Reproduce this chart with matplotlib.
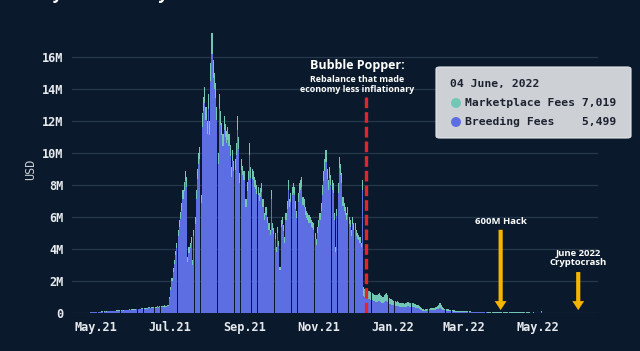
import pandas as pd
import matplotlib
matplotlib.use('Agg')
from matplotlib import pyplot as plt
from matplotlib.patches import FancyBboxPatch, Circle

BG = '#0a1a2c'
BLUE = '#5d6ee2'
TEAL = '#72c6b4'
GRID = '#26384b'
TXT = '#e6e9ee'
MONO = 'DejaVu Sans Mono'
SANS = 'Open Sans'

START = '2021-04-27'

# daily fees in millions of USD, one value per day from START
breeding = [
    0.04, 0.05, 0.05, 0.06,  # apr 21
    0.06, 0.07, 0.08, 0.07, 0.08, 0.08, 0.09, 0.08, 0.10, 0.09, 0.10, 0.11, 0.12, 0.11, 0.13, 0.12,
    0.13, 0.14, 0.14, 0.14, 0.15, 0.14, 0.16, 0.15, 0.16, 0.17, 0.18, 0.17, 0.19, 0.18, 0.19,  # may
    0.20, 0.21, 0.20, 0.22, 0.23, 0.22, 0.24, 0.25, 0.25, 0.26, 0.27, 0.26, 0.28, 0.30, 0.29,
    0.31, 0.32, 0.32, 0.33, 0.34, 0.35, 0.34, 0.36, 0.37, 0.37, 0.38, 0.40, 0.39, 0.41, 0.43,  # jun
    0.90, 1.45, 2.02, 2.58, 3.05, 3.60, 4.05, 4.80, 5.38, 5.85, 6.40, 7.15, 7.60, 8.25, 7.90, 3.20,
    3.75, 4.05, 4.35, 3.00, 4.80, 5.55, 7.15, 8.35, 9.30, 9.65, 6.85, 11.65, 12.60, 13.15, 12.05,  # jul
    11.20, 12.75, 11.15, 14.50, 16.20, 14.70, 14.00, 13.45, 12.05, 9.30, 12.75, 11.75, 11.10, 10.45,
    11.45, 11.00, 10.65, 10.80, 10.45, 9.80, 8.50, 9.50, 8.85, 8.95, 9.85, 11.45, 10.25, 8.15, 8.95,
    8.60, 8.30,  # aug
    8.30, 6.60, 7.65, 8.30, 9.85, 8.45, 8.35, 8.30, 7.90, 7.75, 7.45, 7.35, 7.00, 7.25, 7.55, 6.60,
    5.80, 6.15, 6.15, 5.60, 5.20, 4.85, 7.15, 5.20, 4.95, 4.65, 3.80, 5.00, 4.20, 2.70,  # sep
    5.40, 5.55, 5.10, 4.40, 5.80, 6.50, 7.70, 6.60, 6.95, 7.35, 7.50, 7.35, 6.50, 5.95, 6.95, 7.50,
    7.70, 7.90, 6.75, 6.60, 6.15, 5.95, 5.80, 5.65, 5.60, 5.40, 5.30, 5.20, 4.65, 4.25, 5.00,  # oct
    5.40, 5.80, 6.40, 7.40, 8.25, 8.90, 9.45, 8.35, 7.70, 8.45, 8.00, 7.70, 7.50, 5.80, 3.80, 6.05,
    7.50, 9.05, 8.65, 8.10, 6.70, 6.40, 6.10, 5.80, 6.10, 5.55, 5.35, 4.80, 5.55, 5.20,  # nov
    5.20, 4.80, 4.65, 4.55, 4.40, 4.10, 7.70, 1.05, 1.00, 0.90, 0.95, 0.90, 0.87, 0.84, 0.80, 0.76,
    0.73, 0.68, 0.68, 0.75, 0.78, 0.71, 0.65, 0.62, 0.68, 0.75, 0.78, 0.68, 0.58, 0.55, 0.52,  # dec
    0.48, 0.47, 0.45, 0.42, 0.43, 0.41, 0.37, 0.36, 0.37, 0.36, 0.35, 0.37, 0.41, 0.42, 0.39, 0.36,
    0.37, 0.36, 0.35, 0.33, 0.30, 0.29, 0.25, 0.21, 0.18, 0.15, 0.12, 0.13, 0.15, 0.16, 0.17,  # jan 22
    0.17, 0.17, 0.18, 0.17, 0.19, 0.22, 0.25, 0.28, 0.33, 0.28, 0.21, 0.17, 0.16, 0.14, 0.14, 0.12,
    0.11, 0.10, 0.10, 0.09, 0.09, 0.08, 0.08, 0.08, 0.08, 0.07, 0.07, 0.07,  # feb
    0.06, 0.06, 0.06, 0.05, 0.05, 0.05, 0.045, 0.046, 0.044, 0.04, 0.041, 0.04, 0.039, 0.036, 0.035,
    0.034, 0.036, 0.035, 0.033, 0.031, 0.03, 0.029, 0.031, 0.03, 0.026, 0.025, 0.024, 0.026, 0.025,
    0.024, 0.025,  # mar
    0.024, 0.023, 0.024, 0.022, 0.021, 0.022, 0.021, 0.020, 0.019, 0.020, 0.019, 0.018, 0.019, 0.018,
    0.017, 0.018, 0.017, 0.016, 0.017, 0.016, 0.016, 0.015, 0.016, 0.015, 0.014, 0.015, 0.015, 0.014,
    0.013, 0.014,  # apr
    0.014, 0.014, 0.013, 0.070, 0.013, 0.012, 0.011, 0.010, 0.009, 0.009, 0.009, 0.008, 0.008, 0.008,
    0.008, 0.007, 0.007, 0.007, 0.007, 0.007, 0.006, 0.006, 0.006, 0.006, 0.006, 0.006, 0.006, 0.006,
    0.006, 0.005, 0.005,  # may
    0.0055, 0.0056, 0.0054, 0.005499,  # jun
]

marketplace = [
    0.01, 0.01, 0.01, 0.01,  # apr 21
    0.01, 0.01, 0.01, 0.01, 0.01, 0.02, 0.02, 0.02, 0.02, 0.02, 0.02, 0.02, 0.02, 0.02, 0.02, 0.02,
    0.02, 0.02, 0.03, 0.02, 0.03, 0.03, 0.03, 0.03, 0.03, 0.03, 0.03, 0.03, 0.03, 0.03, 0.03,  # may
    0.03, 0.04, 0.04, 0.04, 0.04, 0.04, 0.04, 0.05, 0.04, 0.05, 0.05, 0.05, 0.05, 0.05, 0.05,
    0.05, 0.06, 0.05, 0.06, 0.06, 0.06, 0.06, 0.06, 0.07, 0.06, 0.07, 0.07, 0.07, 0.07, 0.07,  # jun
    0.10, 0.15, 0.18, 0.22, 0.25, 0.30, 0.35, 0.40, 0.42, 0.45, 0.50, 0.55, 0.60, 0.65, 0.60, 0.30,
    0.35, 0.35, 0.40, 0.30, 0.40, 0.45, 0.55, 0.65, 0.70, 0.75, 0.55, 0.85, 0.90, 0.95, 0.85,  # jul
    0.80, 0.95, 0.85, 1.10, 1.30, 1.10, 1.00, 0.95, 0.85, 0.70, 0.95, 0.85, 0.80, 0.75, 0.85, 0.80,
    0.75, 0.80, 0.75, 0.70, 0.60, 0.70, 0.65, 0.65, 0.75, 0.85, 0.75, 0.60, 0.65, 0.60, 0.60,  # aug
    0.60, 0.50, 0.55, 0.60, 0.75, 0.65, 0.65, 0.60, 0.60, 0.55, 0.55, 0.55, 0.50, 0.55, 0.55, 0.50,
    0.45, 0.45, 0.45, 0.40, 0.40, 0.35, 0.55, 0.40, 0.35, 0.35, 0.30, 0.40, 0.30, 0.20,  # sep
    0.40, 0.45, 0.40, 0.35, 0.45, 0.50, 0.60, 0.50, 0.55, 0.55, 0.60, 0.55, 0.50, 0.45, 0.55, 0.60,
    0.60, 0.60, 0.50, 0.50, 0.45, 0.45, 0.45, 0.45, 0.40, 0.40, 0.40, 0.40, 0.35, 0.35, 0.40,  # oct
    0.40, 0.45, 0.50, 0.60, 0.65, 0.70, 0.75, 0.65, 0.60, 0.65, 0.60, 0.60, 0.60, 0.45, 0.30, 0.45,
    0.60, 0.70, 0.65, 0.65, 0.55, 0.50, 0.50, 0.45, 0.50, 0.45, 0.45, 0.40, 0.45, 0.40,  # nov
    0.40, 0.40, 0.35, 0.35, 0.35, 0.30, 0.60, 0.55, 0.50, 0.50, 0.50, 0.50, 0.48, 0.46, 0.45, 0.44,
    0.42, 0.42, 0.42, 0.45, 0.47, 0.44, 0.40, 0.38, 0.42, 0.45, 0.47, 0.42, 0.37, 0.35, 0.33,  # dec
    0.32, 0.31, 0.30, 0.28, 0.29, 0.27, 0.25, 0.24, 0.25, 0.24, 0.23, 0.25, 0.27, 0.28, 0.26, 0.24,
    0.25, 0.24, 0.23, 0.22, 0.20, 0.19, 0.17, 0.14, 0.12, 0.10, 0.08, 0.09, 0.10, 0.11, 0.11,  # jan 22
    0.13, 0.13, 0.14, 0.13, 0.16, 0.18, 0.20, 0.22, 0.27, 0.22, 0.17, 0.13, 0.12, 0.11, 0.11, 0.10,
    0.09, 0.09, 0.08, 0.08, 0.07, 0.07, 0.07, 0.06, 0.06, 0.06, 0.05, 0.05,  # feb
    0.06, 0.05, 0.05, 0.05, 0.05, 0.05, 0.045, 0.044, 0.046, 0.04, 0.039, 0.04, 0.041, 0.034, 0.035,
    0.036, 0.034, 0.035, 0.037, 0.029, 0.03, 0.031, 0.029, 0.03, 0.024, 0.025, 0.026, 0.024, 0.025,
    0.026, 0.025,  # mar
    0.025, 0.026, 0.024, 0.025, 0.023, 0.022, 0.023, 0.022, 0.021, 0.022, 0.021, 0.020, 0.021, 0.020,
    0.019, 0.020, 0.019, 0.019, 0.018, 0.019, 0.018, 0.018, 0.017, 0.018, 0.017, 0.016, 0.017, 0.017,
    0.016, 0.016,  # apr
    0.016, 0.015, 0.016, 0.080, 0.015, 0.014, 0.012, 0.011, 0.010, 0.010, 0.011, 0.010, 0.009, 0.009,
    0.010, 0.009, 0.009, 0.008, 0.009, 0.008, 0.008, 0.008, 0.009, 0.008, 0.008, 0.007, 0.008, 0.007,
    0.007, 0.007, 0.007,  # may
    0.0072, 0.0069, 0.0071, 0.007019,  # jun
]

yticks = [0, 2, 4, 6, 8, 10, 12, 14, 16]
ytick_labels = ['0', '2M', '4M', '6M', '8M', '10M', '12M', '14M', '16M']
xticks = ['2021-05-01', '2021-07-01', '2021-09-01', '2021-11-01',
          '2022-01-01', '2022-03-01', '2022-05-01']
xtick_labels = ['May.21', 'Jul.21', 'Sep.21', 'Nov.21', 'Jan.22', 'Mar.22', 'May.22']

popper_date = '2021-12-10'
hack_date = '2022-03-31'
crash_date = '2022-06-03'
tip_date = '04 June, 2022'
tip_market = '7,019'
tip_breed = '5,499'

dates = pd.date_range(START, periods=len(breeding), freq='D')

fig = plt.figure(figsize=(6.4, 3.51), dpi=100, facecolor=BG)
ax = fig.add_axes([72 / 640, 38 / 351, 526 / 640, 288 / 351], facecolor=BG)

ax.bar(dates, breeding, width=0.92, color=BLUE, linewidth=0, zorder=2)
ax.bar(dates, marketplace, bottom=breeding, width=0.92, color=TEAL, linewidth=0, zorder=2)

t0 = pd.Timestamp('2021-05-01')
ax.set_xlim(t0 - pd.Timedelta(days=19.5), t0 + pd.Timedelta(days=414.3))
ax.set_ylim(0, 18)

ax.set_yticks(yticks)
ax.set_yticklabels(ytick_labels)
ax.set_xticks(pd.to_datetime(xticks))
ax.set_xticklabels(xtick_labels)
ax.tick_params(length=0, colors=TXT, labelsize=8.6, pad=6)
for lab in ax.get_xticklabels() + ax.get_yticklabels():
    lab.set_fontfamily(MONO)
    lab.set_fontweight('bold')
ax.grid(axis='y', color=GRID, linewidth=0.9, zorder=0)
for s in ax.spines.values():
    s.set_visible(False)
ax.set_ylabel('USD', color='#c9cdd4', fontsize=8.5, fontfamily=MONO, labelpad=4)

# red dashed rebalance line
pd_x = pd.Timestamp(popper_date)
ax.vlines(pd_x, 0, 13.5, colors='#e3242b', linewidth=2.4,
          linestyles=(0, (3.2, 1.2)), zorder=4)
ax.text(pd_x - pd.Timedelta(days=7), 15.45, 'Bubble Popper:', color='white',
        fontsize=9, fontweight='bold', fontfamily=SANS, ha='center', va='center')
ax.text(pd_x - pd.Timedelta(days=7), 14.3, 'Rebalance that made\neconomy less inflationary',
        color='white', fontsize=6.4, fontweight='bold', fontfamily=SANS,
        ha='center', va='center', linespacing=1.1)

# yellow arrows
arrow = dict(facecolor='#f5b400', edgecolor='none', width=3, headwidth=8.5, headlength=6.5)
hx = pd.Timestamp(hack_date)
ax.annotate('', xy=(hx, 0.18), xytext=(hx, 5.2), arrowprops=arrow, zorder=5)
ax.text(hx, 5.72, '600M Hack', color='white', fontsize=6.8, fontweight='bold',
        fontfamily=SANS, ha='center', va='center')
cx = pd.Timestamp(crash_date)
ax.annotate('', xy=(cx, 0.18), xytext=(cx, 2.56), arrowprops=arrow, zorder=5)
ax.text(cx, 3.43, 'June 2022\nCryptocrash', color='white', fontsize=6.8, fontweight='bold',
        fontfamily=SANS, ha='center', va='center', linespacing=1.05)

# tooltip box, placed in figure pixels
def fx(px):
    return px / 640

def fy(py):
    return 1 - py / 351

box = FancyBboxPatch((fx(436), fy(138)), fx(631) - fx(436), fy(67) - fy(138),
                     boxstyle='round,pad=0,rounding_size=0.006', transform=fig.transFigure,
                     facecolor='#cdd1d6', edgecolor='#e4e6ea', linewidth=0.8, zorder=10)
fig.patches.append(box)
tip_txt = dict(fontfamily=MONO, fontsize=8.2, color='#1c2230', fontweight='bold',
               va='center', ha='left', zorder=11)
fig.text(fx(450), fy(84), tip_date, **tip_txt)
fig.text(fx(465), fy(103), 'Marketplace Fees ' + tip_market, **tip_txt)
fig.text(fx(465), fy(122), 'Breeding Fees    ' + tip_breed, **tip_txt)
for py, col in [(103, TEAL), (122, BLUE)]:
    dot = Circle((456 / 100, (351 - py) / 100), 0.05, transform=fig.dpi_scale_trans,
                 facecolor=col, edgecolor='none', zorder=11)
    fig.patches.append(dot)

# title, mostly cut off at the top edge as in the source image
fig.text(fx(20), 0.992, 'Daily Axie Infinity Fees in USD', color='white', fontsize=12,
         fontweight='bold', fontfamily=SANS, ha='left', va='bottom')

fig.savefig('out.png', dpi=100, facecolor=BG)
